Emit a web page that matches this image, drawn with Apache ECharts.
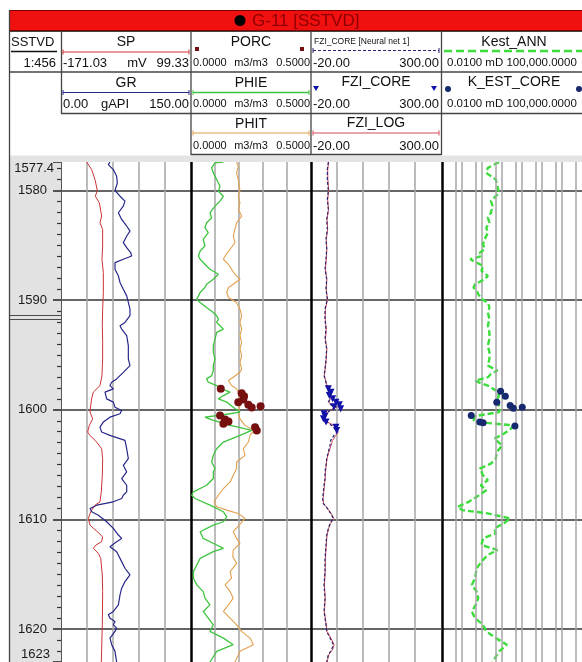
<!DOCTYPE html>
<html>
<head>
<meta charset="utf-8">
<script src="https://cdn.jsdelivr.net/npm/echarts@6/dist/echarts.min.js"></script>
<style>
  html, body { margin: 0; padding: 0; background: #fff; }
  #chart { width: 582px; height: 662px; }
</style>
</head>
<body>
<div id="chart"></div>
<script>
// ---- Depth window (m, SSTVD) ----
const DEPTH_TOP = 1577.4;
const DEPTH_BOTTOM = 1623;
const depthBreak = [1591.35, 1591.75];

// ---- Track 1: SP (mV) and GR (gAPI), pairs are [depth, value] ----
const spCurve = [
  [1577.4,-117.7],[1578.09,-107.3],[1579.0,-100.3],[1580.0,-95.5],[1580.52,-99.6],[1581.12,-91.3],
  [1582.33,-86.5],[1582.94,-89.9],[1583.55,-84.4],[1585.06,-84.4],[1586.27,-85.8],[1587.48,-83.0],
  [1589.3,-83.0],[1590.82,-84.4],[1592.33,-85.1],[1593.85,-84.4],[1595.36,-84.4],[1596.88,-85.8],
  [1597.79,-89.9],[1598.39,-103.8],[1599.0,-107.3],[1599.61,-109.3],[1600.21,-110.7],[1600.82,-105.2],
  [1601.42,-112.1],[1602.03,-115.6],[1602.33,-110.7],[1602.94,-96.9],[1603.55,-86.5],[1604.45,-84.4],
  [1605.97,-85.1],[1607.48,-87.2],[1608.39,-89.9],[1608.7,-100.3],[1609.3,-109.3],[1609.91,-114.2],
  [1610.52,-110.7],[1611.12,-95.5],[1611.58,-84.4],[1612.03,-86.5],[1612.33,-98.2],[1612.64,-103.8],
  [1613.09,-93.4],[1613.55,-88.5],[1615.06,-85.1],[1616.58,-84.4],[1619.61,-85.1],[1623,-87.2]
];
const grCurve = [
  [1577.4,56.5],[1577.64,54.6],[1578.09,60.4],[1578.7,64.2],[1579.3,65.0],[1580.0,62.3],[1580.52,68.1],
  [1580.97,73.8],[1581.42,71.9],[1582.03,66.2],[1582.64,70.0],[1583.24,75.8],[1583.7,79.6],[1584.15,75.8],
  [1584.76,71.9],[1585.21,75.8],[1585.67,80.4],[1585.97,81.5],[1586.27,71.9],[1586.58,62.3],[1587.18,62.3],
  [1587.79,66.2],[1588.39,68.1],[1589.0,71.9],[1589.61,75.8],[1590.21,77.7],[1590.82,79.6],[1591.42,79.6],
  [1592.03,73.8],[1592.33,68.1],[1592.64,70.0],[1593.24,75.8],[1594.15,77.7],[1595.36,77.7],[1595.97,79.6],
  [1596.58,71.9],[1597.18,64.2],[1597.48,58.5],[1597.79,56.5],[1598.09,60.4],[1598.39,50.8],[1599.0,52.7],
  [1599.3,60.4],[1599.76,62.3],[1600.06,70.0],[1600.36,68.1],[1600.67,56.5],[1601.12,48.8],[1601.58,45.0],
  [1602.03,46.9],[1602.33,56.5],[1602.79,73.8],[1603.55,75.8],[1604.45,77.7],[1605.06,71.9],[1605.67,75.8],
  [1606.27,70.0],[1606.88,75.8],[1607.48,75.8],[1607.79,71.9],[1608.09,70.0],[1608.39,60.4],[1608.7,41.2],
  [1609.0,33.5],[1609.3,35.5],[1609.61,43.1],[1610.21,52.7],[1610.82,60.4],[1611.42,66.2],[1611.73,70.0],
  [1612.03,64.2],[1612.48,56.5],[1612.94,64.2],[1613.55,68.1],[1614.45,73.8],[1615.06,79.6],[1615.67,73.8],
  [1616.27,70.0],[1616.88,68.1],[1617.79,66.2],[1618.39,60.4],[1618.7,54.6],[1619.0,56.5],[1619.3,62.3],
  [1619.61,60.4],[1619.91,64.2],[1620.21,62.3],[1620.82,56.5],[1621.42,58.5],[1622.03,62.3],[1623,64.2]
];

// ---- Track 2: porosity (m3/m3) ----
const phieCurve = [
  [1577.4,0.135],[1577.48,0.100],[1577.94,0.086],[1578.39,0.093],[1579.0,0.107],[1579.61,0.121],[1580.06,0.114],
  [1580.52,0.135],[1580.97,0.121],[1581.42,0.100],[1582.03,0.079],[1582.48,0.086],[1582.94,0.065],[1583.39,0.058],
  [1583.85,0.072],[1584.45,0.051],[1585.06,0.058],[1585.52,0.038],[1585.97,0.031],[1586.27,0.038],[1586.73,0.058],
  [1587.18,0.079],[1587.64,0.114],[1588.09,0.093],[1588.55,0.065],[1588.85,0.058],[1589.3,0.038],[1589.61,0.031],
  [1589.91,0.024],[1590.21,0.038],[1590.67,0.065],[1591.12,0.093],[1591.42,0.107],[1591.73,0.114],[1592.03,0.107],
  [1592.33,0.121],[1592.64,0.135],[1592.94,0.107],[1593.55,0.100],[1594.15,0.093],[1594.76,0.093],[1595.36,0.100],
  [1595.97,0.093],[1596.42,0.093],[1596.88,0.086],[1597.18,0.065],[1597.48,0.072],[1597.79,0.107],[1598.09,0.128],
  [1598.39,0.163],[1598.7,0.135],[1599.0,0.114],[1599.3,0.149],[1599.76,0.176],[1600.21,0.204],[1600.45,0.135],
  [1600.67,0.058],[1600.97,0.093],[1601.12,0.121],[1601.42,0.163],[1601.58,0.197],[1601.88,0.253],[1602.33,0.204],
  [1602.94,0.135],[1603.55,0.107],[1604.15,0.093],[1604.76,0.086],[1605.06,0.093],[1605.36,0.100],[1605.67,0.093],
  [1606.27,0.093],[1606.88,0.065],[1607.48,0.010],[1607.79,0.003],[1608.09,0.017],[1608.7,0.079],[1609.3,0.135],
  [1609.76,0.149],[1610.21,0.135],[1610.52,0.093],[1611.12,0.038],[1611.73,0.051],[1612.33,0.107],[1612.64,0.135],
  [1612.94,0.093],[1613.55,0.038],[1614.15,0.024],[1614.76,0.010],[1615.36,0.010],[1615.97,0.024],[1616.58,0.051],
  [1617.18,0.058],[1617.79,0.079],[1618.39,0.051],[1619.0,0.072],[1619.61,0.093],[1620.21,0.079],[1620.82,0.135],
  [1621.42,0.176],[1622.03,0.107],[1623,0.079]
];
const phitCurve = [
  [1577.4,0.190],[1577.79,0.197],[1578.39,0.190],[1579.0,0.197],[1579.61,0.201],[1580.0,0.204],[1580.52,0.197],
  [1581.12,0.204],[1581.73,0.197],[1582.33,0.211],[1582.94,0.190],[1583.55,0.183],[1584.15,0.176],[1584.76,0.183],
  [1585.36,0.163],[1585.97,0.142],[1586.27,0.135],[1586.73,0.156],[1587.18,0.169],[1587.64,0.183],[1588.09,0.204],
  [1588.55,0.176],[1588.85,0.156],[1589.3,0.149],[1589.76,0.156],[1590.21,0.190],[1590.82,0.204],[1591.42,0.211],
  [1592.03,0.204],[1592.64,0.211],[1593.24,0.204],[1593.85,0.211],[1594.45,0.204],[1595.06,0.211],[1595.67,0.204],
  [1596.27,0.211],[1596.58,0.204],[1597.03,0.176],[1597.33,0.156],[1597.79,0.169],[1598.09,0.190],[1598.39,0.197],
  [1599.0,0.204],[1599.61,0.204],[1600.21,0.197],[1600.82,0.204],[1601.42,0.225],[1601.88,0.263],[1602.33,0.246],
  [1602.94,0.239],[1603.55,0.218],[1604.15,0.225],[1604.76,0.190],[1605.36,0.190],[1605.97,0.176],[1606.58,0.163],
  [1607.18,0.135],[1607.79,0.114],[1608.39,0.096],[1608.85,0.107],[1609.15,0.149],[1609.45,0.197],[1609.91,0.225],
  [1610.52,0.201],[1611.12,0.176],[1611.73,0.190],[1612.18,0.204],[1612.79,0.176],[1613.39,0.174],[1614.0,0.190],
  [1614.76,0.163],[1615.36,0.169],[1615.97,0.142],[1616.58,0.163],[1617.18,0.176],[1617.79,0.156],[1618.39,0.135],
  [1619.0,0.163],[1619.61,0.190],[1620.21,0.211],[1620.82,0.246],[1621.42,0.260],[1622.03,0.204],[1623,0.183]
];
const porcCore = [
  [1598.09,0.124],[1598.48,0.211],[1598.76,0.221],[1599.06,0.218],[1599.30,0.197],[1599.55,0.239],[1599.79,0.253],
  [1599.67,0.290],[1600.52,0.121],[1600.88,0.142],[1601.06,0.156],[1601.27,0.135],[1601.58,0.267],[1601.88,0.274]
];

// ---- Track 3: FZI ----
const fziNeuralCurve = [
  [1577.4,22.7],[1578.09,20.2],[1579.0,20.2],[1580.0,22.7],[1580.82,20.2],[1581.73,22.7],[1582.64,18.6],[1583.55,20.2],
  [1584.45,16.9],[1585.36,18.6],[1586.27,16.9],[1587.18,14.5],[1588.09,18.6],[1589.0,16.9],[1589.91,20.2],[1590.82,14.5],
  [1591.73,14.5],[1592.64,16.9],[1593.55,14.5],[1594.45,18.6],[1595.36,16.9],[1596.27,14.5],[1596.88,12.0],[1597.18,14.5],
  [1597.79,18.6],[1598.09,22.7],[1598.39,22.7],[1599.0,26.8],[1599.3,22.7],[1599.61,30.9],[1599.76,43.2],[1600.06,26.8],
  [1600.36,14.5],[1600.67,10.4],[1601.12,18.6],[1601.42,30.9],[1601.73,39.1],[1602.03,44.8],[1602.33,36.6],[1602.79,28.4],
  [1603.24,26.8],[1603.85,22.7],[1604.45,18.6],[1605.06,16.9],[1605.67,14.5],[1606.27,14.5],[1606.88,12.0],[1607.48,10.4],
  [1608.09,8.7],[1608.55,10.4],[1609.0,20.2],[1609.45,28.4],[1609.91,35.0],[1610.36,26.8],[1610.82,22.7],[1611.42,18.6],
  [1612.33,16.9],[1613.55,14.5],[1614.76,14.5],[1615.97,12.0],[1617.18,14.5],[1618.39,12.0],[1619.61,16.9],[1620.21,18.6],
  [1620.82,26.8],[1621.42,35.0],[1621.88,30.9],[1622.33,22.7],[1623,18.6]
];
const fziLogCurve = [
  [1577.4,23.5],[1578.09,21.0],[1579.0,21.5],[1580.0,23.5],[1580.82,21.0],[1581.73,23.0],[1582.64,19.5],[1583.55,21.0],
  [1584.45,17.5],[1585.36,19.0],[1586.27,17.5],[1587.18,15.5],[1588.09,19.0],[1589.0,17.5],[1589.91,20.5],[1590.82,15.5],
  [1591.73,15.0],[1592.64,17.5],[1593.55,15.5],[1594.45,19.0],[1595.36,17.5],[1596.27,15.0],[1596.88,13.0],[1597.18,15.0],
  [1597.79,19.5],[1598.09,23.0],[1598.39,24.0],[1599.0,27.5],[1599.3,24.0],[1599.61,32.0],[1599.76,42.0],[1600.06,28.0],
  [1600.36,16.0],[1600.67,12.0],[1601.12,21.0],[1601.42,36.0],[1601.73,43.5],[1602.03,47.0],[1602.33,41.0],[1602.79,33.0],
  [1603.24,29.5],[1603.85,24.0],[1604.45,19.5],[1605.06,17.5],[1605.67,15.5],[1606.27,15.0],[1606.88,13.0],[1607.48,11.5],
  [1608.09,9.5],[1608.55,11.0],[1609.0,21.0],[1609.45,29.5],[1609.91,36.0],[1610.36,28.0],[1610.82,23.5],[1611.42,19.5],
  [1612.33,17.5],[1613.55,15.5],[1614.76,15.0],[1615.97,13.0],[1617.18,15.0],[1618.39,13.0],[1619.61,17.5],[1620.21,19.5],
  [1620.82,29.0],[1621.42,37.0],[1621.88,33.0],[1622.33,24.0],[1623,19.5]
];
const fziCore = [
  [1598.09,22.7],[1598.39,29.2],[1598.70,25.1],[1599.0,33.3],[1599.30,41.5],[1599.55,49.7],[1599.73,36.6],
  [1599.91,53.0],[1600.36,12.0],[1600.58,14.5],[1600.82,10.4],[1601.12,16.9],[1601.58,41.5],[1601.88,43.2]
];

// ---- Track 4: permeability (mD, log) ----
const kestAnnCurve = [
  [1577.4,7.1],[1577.48,5.9],[1577.94,1.96],[1578.39,1.63],[1579.0,4.9],[1579.61,5.9],[1580.21,7.1],[1580.52,4.9],
  [1580.97,2.8],[1581.42,3.4],[1582.03,2.8],[1582.48,1.96],[1582.94,2.35],[1583.39,1.63],[1583.85,1.96],[1584.45,1.36],
  [1584.91,1.13],[1585.36,1.36],[1585.67,0.78],[1585.97,0.94],[1586.27,0.26],[1586.58,0.54],[1586.88,1.13],[1587.33,0.94],
  [1587.79,1.96],[1588.09,1.36],[1588.55,0.45],[1588.85,0.375],[1589.15,0.54],[1589.45,0.65],[1589.91,0.94],[1590.21,1.96],
  [1590.67,2.35],[1591.12,1.96],[1591.73,2.35],[1592.33,1.96],[1592.94,2.35],[1593.55,2.35],[1594.15,1.96],[1594.76,2.35],
  [1595.36,2.35],[1595.97,1.96],[1596.42,5.9],[1596.73,2.8],[1597.03,1.96],[1597.33,0.45],[1597.48,0.65],[1597.79,1.96],
  [1598.24,4.9],[1598.7,7.1],[1599.3,4.9],[1599.76,8.5],[1600.21,7.1],[1600.58,0.45],[1600.97,0.375],[1601.18,1.36],
  [1601.42,37.0],[1601.79,25.6],[1602.18,12.3],[1602.64,4.08],[1603.24,10.2],[1603.85,5.5],[1604.45,4.9],[1604.91,2.8],
  [1605.36,0.78],[1605.97,1.13],[1606.42,1.96],[1606.88,0.87],[1607.33,1.63],[1607.94,0.54],[1608.39,0.216],[1608.85,0.060],
  [1609.15,0.104],[1609.45,1.96],[1609.91,25.6],[1610.36,12.3],[1610.82,4.08],[1611.27,4.9],[1611.73,1.13],[1612.33,0.94],
  [1612.79,5.9],[1613.24,1.96],[1613.85,0.94],[1614.45,0.54],[1615.36,0.45],[1615.97,0.31],[1616.58,0.54],[1617.18,0.65],
  [1617.79,0.485],[1618.39,0.31],[1619.0,0.45],[1619.61,1.13],[1620.21,1.63],[1620.82,4.9],[1621.42,17.7],[1622.03,7.1],
  [1623,3.4]
];
const kEstCore = [
  [1598.30,8.5],[1598.76,14.7],[1599.30,5.5],[1599.61,25.6],[1599.85,37.0],[1599.76,103],
  [1600.52,0.29],[1601.12,0.78],[1601.18,1.13],[1601.48,44.4]
];
const kLogHalfLines = [0.05, 0.5, 5, 50, 500, 5000, 50000];

// ---- Header texts ----
const wellTitle = 'G-11 [SSTVD]';
const depthHeader = { name: 'SSTVD', scale: '1:456' };
const scaleSP = { name: 'SP', left: '-171.03', unit: 'mV', right: '99.33' };
const scaleGR = { name: 'GR', left: '0.00', unit: 'gAPI', right: '150.00' };
const scalePorosity = { left: '0.0000', unit: 'm3/m3', right: '0.5000' };
const scaleFZI = { left: '-20.00', right: '300.00' };
const scalePerm = '0.0100 mD 100,000.0000';

const FONT = '"Liberation Sans", Arial, sans-serif';
const PLOT_TOP = 162, PLOT_H = 502;
const C = {
  sp: '#cc3434', gr: '#27278a', phie: '#3ec43e', phit: '#e3a04e', porc: '#761010',
  fziNN: '#2b2470', fziLog: '#d24a5a', fziCore: '#1212a8', kest: '#3ddc3d', kCore: '#16296e',
  grid: '#a6a6a6', depthLine: '#333', border: '#444'
};

const toXY = arr => arr.map(p => [p[1], p[0]]);

// ---- Header drawing helpers ----
const G = [];
function txt(x, y, s, size, align, color) {
  G.push({ type: 'text', x, y, z: 20, silent: true,
    style: { text: s, font: size + 'px ' + FONT, fill: color || '#111',
      textAlign: align || 'left', textVerticalAlign: 'middle', align: align || 'left', verticalAlign: 'middle' } });
}
function ln(x1, y1, x2, y2, color, w, dash) {
  G.push({ type: 'line', z: 20, silent: true, shape: { x1, y1, x2, y2 },
    style: { stroke: color, lineWidth: w || 1, lineDash: dash || null } });
}
function sample(x1, x2, y, color, w, dash) {
  ln(x1, y, x2, y, color, w, dash);
  ln(x1, y - 2.5, x1, y + 2.5, color, 1);
  ln(x2, y - 2.5, x2, y + 2.5, color, 1);
}
// Title band
G.push({ type: 'rect', z: 19, silent: true, shape: { x: 9.5, y: 10.5, width: 600, height: 20 },
  style: { fill: '#f01010', stroke: '#7a0000', lineWidth: 1 } });
G.push({ type: 'circle', z: 20, silent: true, shape: { cx: 240, cy: 20.5, r: 5.5 }, style: { fill: '#000' } });
txt(252, 21, wellTitle, 17, 'left', '#8c0000');
// Header grid
ln(9, 31.5, 600, 31.5, C.border, 1);
ln(9, 72, 600, 72, C.border, 1.3);
ln(61, 113.5, 600, 113.5, C.border, 1.3);
ln(191, 154.5, 441.5, 154.5, C.border, 1.3);
ln(9.5, 10, 9.5, 662, C.border, 1.3);
ln(61.5, 31, 61.5, 114, C.border, 1.3);
ln(191, 31, 191, 155, C.border, 1.3);
ln(311, 31, 311, 155, C.border, 1.3);
ln(441.5, 31, 441.5, 155, C.border, 1.3);
G.push({ type: 'rect', z: 18, silent: true, shape: { x: 10, y: 155.5, width: 600, height: 6.5 }, style: { fill: '#e4e4e4' } });
// Depth column header
txt(11, 42, depthHeader.name, 13);
ln(11, 51.5, 57, 51.5, '#111', 1.5);
txt(56, 63, depthHeader.scale, 13, 'right');
// Track 1
txt(126, 42, scaleSP.name, 14, 'center');
sample(63, 189, 52, C.sp, 1.2);
txt(63, 63, scaleSP.left, 13); txt(137, 63, scaleSP.unit, 13, 'center'); txt(189, 63, scaleSP.right, 13, 'right');
txt(126, 83, scaleGR.name, 14, 'center');
sample(63, 189, 92.5, C.gr, 1.2);
txt(63, 104, scaleGR.left, 13); txt(115, 104, scaleGR.unit, 13, 'center'); txt(189, 104, scaleGR.right, 13, 'right');
// Track 2
function porRow(y) {
  txt(193, y, scalePorosity.left, 11); txt(251, y, scalePorosity.unit, 11, 'center'); txt(310, y, scalePorosity.right, 11, 'right');
}
txt(251, 42, 'PORC', 14, 'center');
G.push({ type: 'rect', z: 20, silent: true, shape: { x: 195, y: 47, width: 4, height: 4 }, style: { fill: C.porc } });
G.push({ type: 'rect', z: 20, silent: true, shape: { x: 300, y: 47, width: 4, height: 4 }, style: { fill: C.porc } });
porRow(63);
txt(251, 83, 'PHIE', 14, 'center');
sample(193, 309, 92.5, C.phie, 1.5);
porRow(104);
txt(251, 124, 'PHIT', 14, 'center');
sample(193, 309, 133, C.phit, 1.2);
porRow(146);
// Track 3
function fziRow(y) { txt(313, y, scaleFZI.left, 13); txt(439, y, scaleFZI.right, 13, 'right'); }
txt(314, 42, 'FZI_CORE [Neural net 1]', 8.5);
sample(313, 439, 50.5, C.fziNN, 1.2, [3, 2]);
fziRow(63);
txt(376, 82, 'FZI_CORE', 14, 'center');
G.push({ type: 'polygon', z: 20, silent: true, shape: { points: [[313, 86], [319, 86], [316, 91]] }, style: { fill: C.fziCore } });
G.push({ type: 'polygon', z: 20, silent: true, shape: { points: [[431, 86], [437, 86], [434, 91]] }, style: { fill: C.fziCore } });
fziRow(104);
txt(376, 123, 'FZI_LOG', 14, 'center');
sample(313, 439, 133, C.fziLog, 1.2);
fziRow(146);
// Track 4
txt(514, 42, 'Kest_ANN', 14, 'center');
ln(444, 51, 600, 51, C.kest, 2.5, [8, 4]);
txt(447, 63, scalePerm, 11.5);
txt(514, 82, 'K_EST_CORE', 14, 'center');
G.push({ type: 'circle', z: 20, silent: true, shape: { cx: 448, cy: 89, r: 3 }, style: { fill: C.kCore } });
G.push({ type: 'circle', z: 20, silent: true, shape: { cx: 579, cy: 89, r: 3 }, style: { fill: C.kCore } });
txt(447, 104, scalePerm, 11.5);

// ---- Axes ----
const depthAxisBase = {
  type: 'value', inverse: true, min: DEPTH_TOP, max: DEPTH_BOTTOM
};
function trackY(gi, separator) {
  return Object.assign({}, depthAxisBase, {
    gridIndex: gi, position: 'left',
    axisLine: { show: separator, onZero: false, lineStyle: { color: '#000', width: 2.5 } },
    axisTick: { show: false }, axisLabel: { show: false },
    splitLine: { show: true, showMinLine: false, showMaxLine: false, lineStyle: { color: C.depthLine, width: 1.5 } }
  });
}
function gridX(gi, min, max, interval, extra) {
  return Object.assign({
    gridIndex: gi, type: 'value', min, max, interval,
    axisLine: { show: false }, axisTick: { show: false }, axisLabel: { show: false },
    splitLine: { show: true, showMinLine: false, showMaxLine: false, lineStyle: { color: C.grid, width: 1.5 } }
  }, extra || {});
}
function hiddenX(gi, min, max) {
  return { gridIndex: gi, type: 'value', min, max, show: false, splitLine: { show: false } };
}

const option = {
  animation: false,
  backgroundColor: '#fff',
  grid: [
    { left: 10, top: PLOT_TOP, width: 51, height: PLOT_H, show: true, backgroundColor: '#e2e2e2', borderWidth: 0 },
    { left: 61, top: PLOT_TOP, width: 130, height: PLOT_H },
    { left: 191, top: PLOT_TOP, width: 120, height: PLOT_H },
    { left: 311, top: PLOT_TOP, width: 130, height: PLOT_H },
    { left: 442, top: PLOT_TOP, width: 146.5, height: PLOT_H }
  ],
  xAxis: [
    hiddenX(0, 0, 1),
    hiddenX(1, -171.03, 99.33),
    gridX(1, 0, 150, 30),
    gridX(2, 0, 0.5, 0.1),
    hiddenX(3, -20, 300),
    gridX(3, 0, 5, 1),
    { gridIndex: 4, type: 'log', logBase: 10, min: 0.01, max: 100000, splitNumber: 7,
      axisLine: { show: false }, axisTick: { show: false }, axisLabel: { show: false },
      splitLine: { show: true, showMinLine: false, showMaxLine: false, lineStyle: { color: C.grid, width: 1.5 } } }
  ],
  yAxis: [
    Object.assign({}, depthAxisBase, {
      gridIndex: 0, position: 'right',
      axisLine: { show: true, onZero: false, lineStyle: { color: '#555', width: 1 } },
      axisTick: { show: true, inside: true, length: 8, lineStyle: { color: '#222', width: 1.5 } },
      minorTick: { show: true, splitNumber: 10, length: 4, lineStyle: { color: '#333', width: 1.2 } },
      splitLine: { show: false },
      axisLabel: {
        inside: true, margin: 7, showMinLabel: true, showMaxLabel: true,
        fontSize: 13, fontFamily: FONT, color: '#1a1a1a',
        formatter: v => v === DEPTH_TOP ? '{top|' + v + '}' : (v === DEPTH_BOTTOM ? '{bot|' + v + '}' : '{mid|' + v + '}'),
        rich: {
          top: { fontSize: 13, fontFamily: FONT, color: '#1a1a1a', padding: [13, 0, 0, 0] },
          bot: { fontSize: 13, fontFamily: FONT, color: '#1a1a1a', padding: [0, 4, 16, 0] },
          mid: { fontSize: 13, fontFamily: FONT, color: '#1a1a1a', padding: [0, 7, 0, 0] }
        }
      }
    }),
    trackY(1, false),
    trackY(2, true),
    trackY(3, true),
    trackY(4, true)
  ],
  series: [
    { name: 'depth break', type: 'line', xAxisIndex: 0, yAxisIndex: 0, data: [], silent: true,
      markLine: { silent: true, symbol: ['none', 'none'], label: { show: false },
        lineStyle: { color: '#4a4a4a', width: 1, type: 'solid' },
        data: depthBreak.map(d => ({ yAxis: d })) } },
    { name: 'SP', type: 'line', xAxisIndex: 1, yAxisIndex: 1, data: toXY(spCurve), showSymbol: false,
      lineStyle: { color: C.sp, width: 1 }, z: 3 },
    { name: 'GR', type: 'line', xAxisIndex: 2, yAxisIndex: 1, data: toXY(grCurve), showSymbol: false,
      lineStyle: { color: C.gr, width: 1.2 }, z: 3 },
    { name: 'PHIT', type: 'line', xAxisIndex: 3, yAxisIndex: 2, data: toXY(phitCurve), showSymbol: false,
      lineStyle: { color: C.phit, width: 1.1 }, z: 3 },
    { name: 'PHIE', type: 'line', xAxisIndex: 3, yAxisIndex: 2, data: toXY(phieCurve), showSymbol: false,
      lineStyle: { color: C.phie, width: 1.3 }, z: 3 },
    { name: 'PORC', type: 'scatter', xAxisIndex: 3, yAxisIndex: 2, data: toXY(porcCore), symbol: 'circle', symbolSize: 8,
      itemStyle: { color: C.porc, opacity: 1 }, z: 5 },
    { name: 'FZI_LOG', type: 'line', xAxisIndex: 4, yAxisIndex: 3, data: toXY(fziLogCurve), showSymbol: false,
      lineStyle: { color: C.fziLog, width: 1 }, z: 3 },
    { name: 'FZI_CORE [Neural net 1]', type: 'line', xAxisIndex: 4, yAxisIndex: 3, data: toXY(fziNeuralCurve), showSymbol: false,
      lineStyle: { color: C.fziNN, width: 1.2, type: [3, 2] }, z: 4 },
    { name: 'FZI_CORE', type: 'scatter', xAxisIndex: 4, yAxisIndex: 3, data: toXY(fziCore), symbol: 'triangle', symbolRotate: 180,
      symbolSize: 7, itemStyle: { color: C.fziCore, opacity: 1 }, z: 5 },
    { name: 'K grid', type: 'line', xAxisIndex: 6, yAxisIndex: 4, data: [], silent: true, z: 1,
      markLine: { silent: true, symbol: ['none', 'none'], label: { show: false },
        lineStyle: { color: C.grid, width: 1.5, type: 'solid' },
        data: kLogHalfLines.map(v => ({ xAxis: v })) } },
    { name: 'Kest_ANN', type: 'line', xAxisIndex: 6, yAxisIndex: 4, data: toXY(kestAnnCurve), showSymbol: false,
      lineStyle: { color: C.kest, width: 2.4, type: [6, 3] }, z: 3 },
    { name: 'K_EST_CORE', type: 'scatter', xAxisIndex: 6, yAxisIndex: 4, data: toXY(kEstCore), symbol: 'circle', symbolSize: 7,
      itemStyle: { color: C.kCore, opacity: 1 }, z: 5 }
  ],
  graphic: { elements: G }
};

const chart = echarts.init(document.getElementById('chart'), null, { renderer: 'canvas' });
chart.setOption(option);
</script>
</body>
</html>
